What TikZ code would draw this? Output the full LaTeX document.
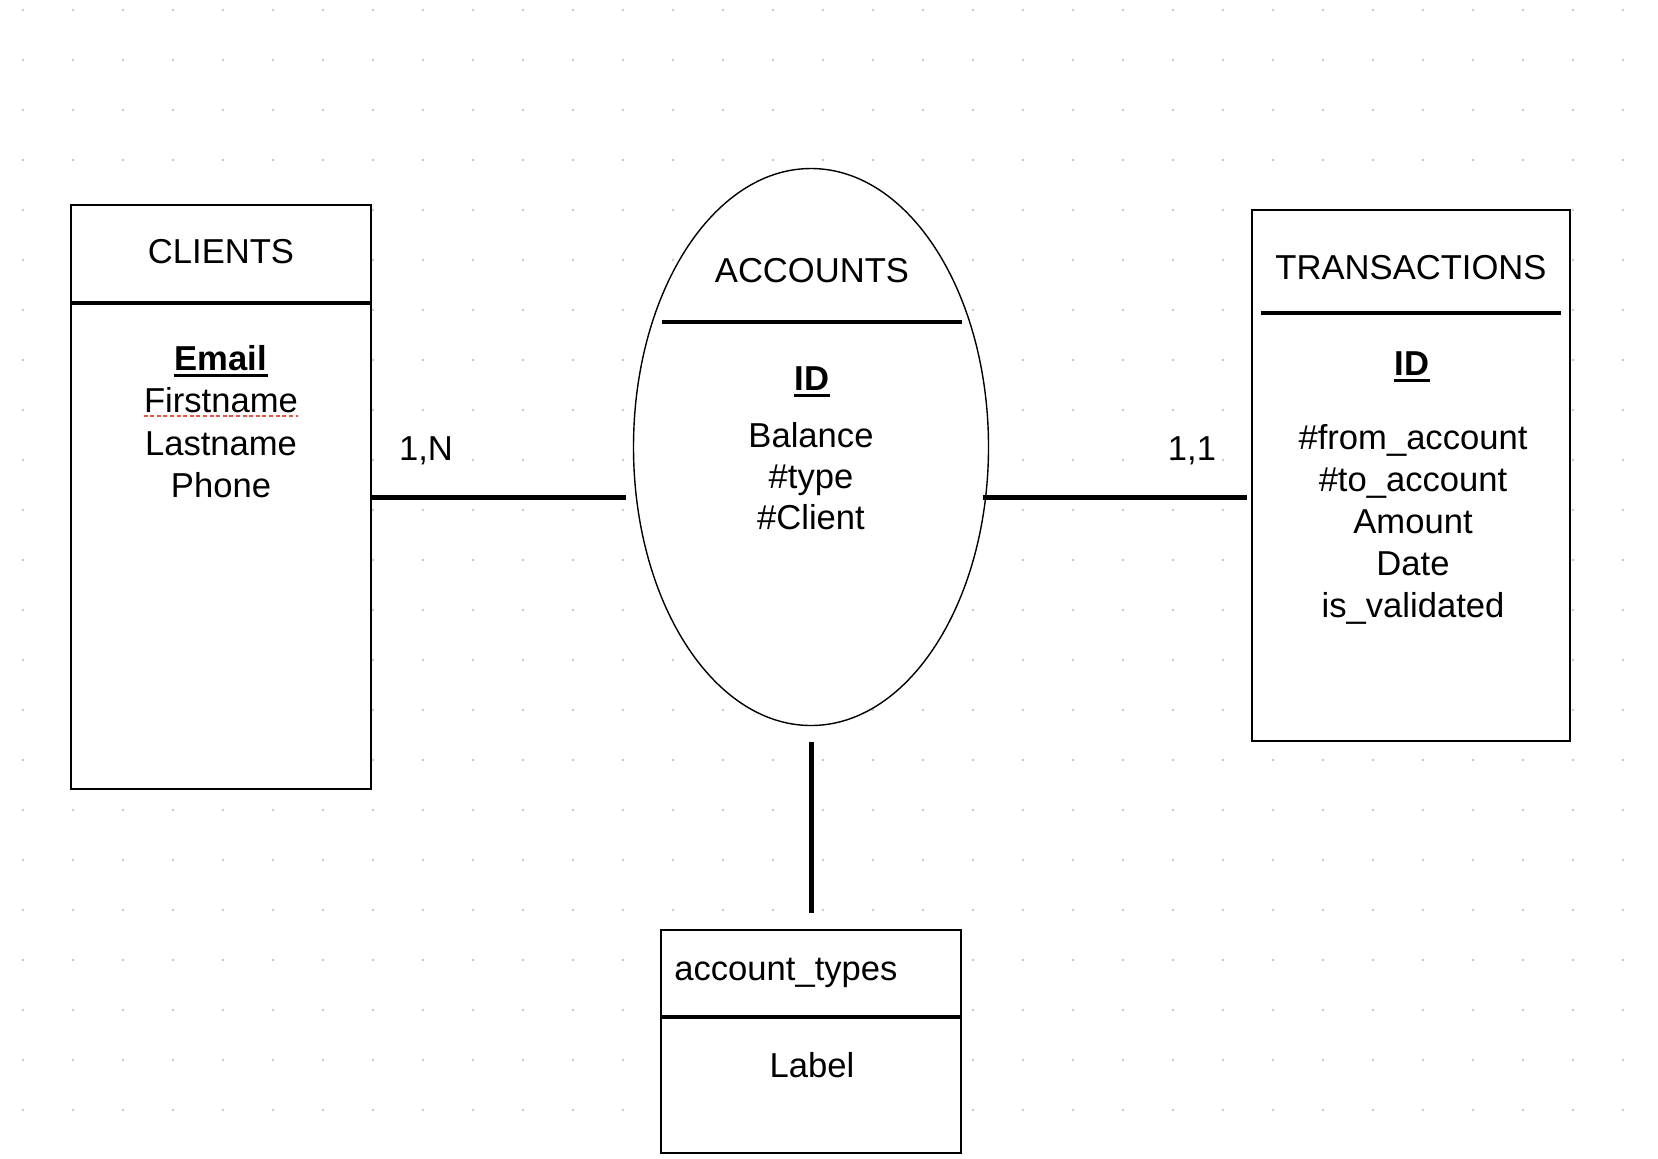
\documentclass[tikz,border=0pt]{standalone}
\usepackage{fontspec}
\setmainfont{Liberation Sans}
\usetikzlibrary{positioning}
\usetikzlibrary{shapes.geometric}
\definecolor{spellred}{RGB}{232,84,70}
\definecolor{griddot}{RGB}{200,200,200}
\tikzset{%
    entity/.style={rectangle, draw, line width=0.9pt, fill=white, inner sep=0pt},
    relation/.style={ellipse, draw, line width=0.7pt, fill=white, inner sep=0pt},
    divider/.style={draw, line width=2.4pt},
    link/.style={draw, line width=2.5pt},
    txt/.style={inner sep=0pt, anchor=base, font=\fontsize{17.3}{20}\selectfont},
    keyline/.style={draw, line width=1.5pt},
    spell/.style={draw=spellred, line width=1.3pt, dash pattern=on 2pt off 1.3pt}
}

\begin{document}
\begin{tikzpicture}[x=0.5pt, y=-0.5pt]
    \useasboundingbox[fill=white] (0,0) rectangle (1658,1158);
    % dotted grid
    \foreach \gx in {23,73,...,1623}
        \foreach \gy in {10,60,...,1110}
            \fill[griddot] (\gx,\gy) circle (0.7pt);

    % entities
    \node[entity, minimum width=150pt, minimum height=292pt] (clients) at (221,497) {};
    \node[relation, minimum width=177.5pt, minimum height=278.5pt] (accounts) at (811,447) {};
    \node[entity, minimum width=159pt, minimum height=265.5pt] (transactions) at (1411,475.5) {};
    \node[entity, minimum width=150pt, minimum height=111.5pt] (types) at (811,1041.5) {};

    \draw[divider] (clients.west |- 0,303) -- (clients.east |- 0,303);
    \draw[divider] (662,322) -- (962,322);
    \draw[divider] (1261,313) -- (1561,313);
    \draw[divider] (types.west |- 0,1017) -- (types.east |- 0,1017);

    % titles
    \node[txt] (clients-t) at (221,263) {CLIENTS};
    \node[txt] (accounts-t) at (812,282) {ACCOUNTS};
    \node[txt] (transactions-t) at (1411,279) {TRANSACTIONS};
    \node[txt, anchor=base west] (types-t) at (674,980) {account\_types};

    % attributes
    \node[txt] (email) at (221,370) {\textbf{Email}};
    \node[txt] (firstname) at (221,412) {Firstname};
    \node[txt] (lastname) at (221,455) {Lastname};
    \node[txt] (phone) at (221,497) {Phone};
    \draw[keyline] ([yshift=-2.5pt]email.base west) -- ([yshift=-2.5pt]email.base east);
    \draw[spell] ([yshift=-2pt]firstname.base west) -- ([yshift=-2pt]firstname.base east);

    \node[txt] (acc-id) at (812,390) {\textbf{ID}};
    \draw[keyline] ([yshift=-2.5pt]acc-id.base west) -- ([yshift=-2.5pt]acc-id.base east);
    \foreach \attr [count=\i] in {Balance, \#type, \#Client}
        \node[txt] (acc-\i) at (811,406+41*\i) {\attr};

    \node[txt] (tr-id) at (1412,375) {\textbf{ID}};
    \draw[keyline] ([yshift=-2.5pt]tr-id.base west) -- ([yshift=-2.5pt]tr-id.base east);
    \foreach \attr [count=\i] in {\#from\_account, \#to\_account, Amount, Date, is\_validated}
        \node[txt] (tr-\i) at (1413,408+41.8*\i) {\attr};

    \node[txt] (label) at (812,1077) {Label};

    % links
    \draw[link, shorten >=3.5pt] (clients.east) -- (clients.east -| accounts.west);
    \draw[link, shorten <=-3.3pt, shorten >=2pt] (clients.east -| accounts.east) -- (clients.east -| transactions.west);
    \draw[link, shorten <=8pt, shorten >=8pt] (accounts.south) -- (types.north);

    \node[txt] (card-left) at (426,460) {1,N};
    \node[txt] (card-right) at (1192,460) {1,1};
\end{tikzpicture}
\end{document}
